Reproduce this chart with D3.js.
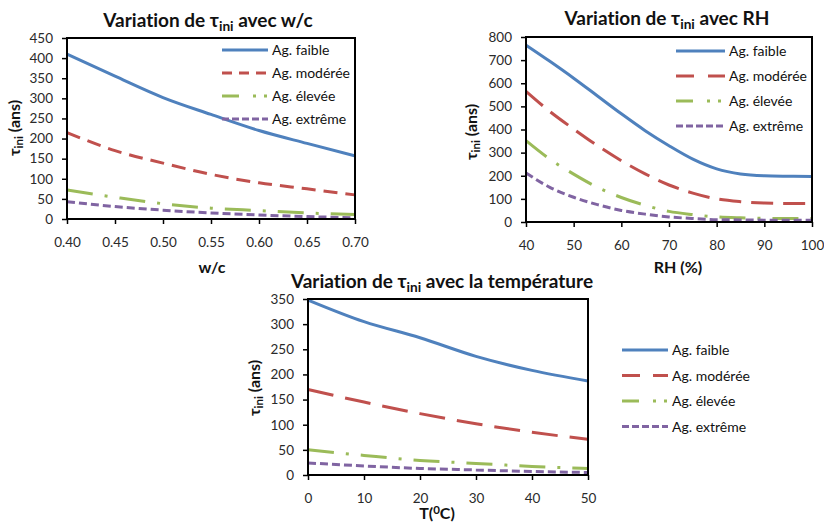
<!DOCTYPE html>
<html>
<head>
<meta charset="utf-8">
<script src="https://cdn.jsdelivr.net/npm/d3@7"></script>
<style>
  html, body { margin: 0; padding: 0; background: #fff; }
  svg { display: block; font-family: Lato, "Open Sans", sans-serif; font-variant-ligatures: none; }
</style>
</head>
<body>
<svg id="fig" width="824" height="522"></svg>
<script>
// Series names (legend)
const seriesNames = ["Ag. faible", "Ag. modérée", "Ag. élevée", "Ag. extrême"];
const seriesColors = ["#4F81BD", "#C0504D", "#9BBB59", "#8064A2"];

// τini vs w/c
const wcValues   = [0.40, 0.45, 0.50, 0.55, 0.60, 0.65, 0.70];
const wcFaible   = [410, 355, 302, 260, 220, 188, 157];
const wcModeree  = [215, 170, 139, 111, 90, 75, 60];
const wcElevee   = [72, 54, 38, 27, 21, 15, 11];
const wcExtreme  = [43, 31, 22, 15, 10, 6, 3];
const wcXTicks   = [0.40, 0.45, 0.50, 0.55, 0.60, 0.65, 0.70];
const wcYTicks   = [0, 50, 100, 150, 200, 250, 300, 350, 400, 450];

// τini vs RH
const rhValues   = [40, 45, 50, 55, 60, 65, 70, 75, 80, 85, 90, 95, 100];
const rhFaible   = [765, 695, 622, 545, 468, 395, 330, 272, 230, 208, 200, 198, 197];
const rhModeree  = [565, 478, 402, 330, 265, 208, 160, 125, 100, 88, 82, 80, 80];
const rhElevee   = [352, 272, 207, 150, 106, 72, 46, 32, 22, 18, 16, 15, 15];
const rhExtreme  = [212, 150, 107, 75, 50, 34, 22, 15, 10, 9, 8, 8, 8];
const rhXTicks   = [40, 50, 60, 70, 80, 90, 100];
const rhYTicks   = [0, 100, 200, 300, 400, 500, 600, 700, 800];

// τini vs température
const tValues    = [0, 10, 20, 30, 40, 50];
const tFaible    = [348, 305, 273, 236, 208, 187];
const tModeree   = [170, 145, 122, 102, 85, 71];
const tElevee    = [50, 39, 29, 23, 17, 13];
const tExtreme   = [24, 18, 13, 10, 7, 5];
const tXTicks    = [0, 10, 20, 30, 40, 50];
const tYTicks    = [0, 50, 100, 150, 200, 250, 300, 350];

const svg = d3.select("#fig");

// Draws text with a subscript / superscript piece: parts = [[text, kind], ...]
function richText(sel, parts, size) {
  parts.forEach(([txt, kind]) => {
    const t = sel.append("tspan").text(txt);
    if (kind === "sub") t.attr("font-size", size * 0.72).attr("baseline-shift", "-25%");
    if (kind === "sup") t.attr("font-size", size * 0.72).attr("baseline-shift", "40%");
  });
  return sel;
}

function drawChart(cfg) {
  const g = svg.append("g");
  const x = d3.scaleLinear().domain(cfg.xDomain).range([cfg.left, cfg.right]);
  const y = d3.scaleLinear().domain(cfg.yDomain).range([cfg.bottom, cfg.top]);

  // axes
  const xAxis = d3.axisBottom(x).tickValues(cfg.xTicks).tickFormat(cfg.xFormat)
    .tickSizeInner(5).tickSizeOuter(0).tickPadding(13);
  const yAxis = d3.axisLeft(y).tickValues(cfg.yTicks).tickFormat(d3.format("d"))
    .tickSizeInner(5).tickSizeOuter(0).tickPadding(9);

  const gx = g.append("g").attr("transform", `translate(0,${cfg.bottom})`).call(xAxis);
  const gy = g.append("g").attr("transform", `translate(${cfg.left},0)`).call(yAxis);
  [gx, gy].forEach(a => {
    a.select(".domain").remove();
    a.selectAll(".tick line").attr("stroke", "#000").attr("stroke-width", 1.5);
    a.selectAll(".tick text").attr("fill", "#2a2a2a").attr("font-size", 13.5).attr("font-family", "Lato, sans-serif");
  });

  // series
  const line = d3.line().x(d => x(d[0])).y(d => y(d[1])).curve(d3.curveMonotoneX);
  cfg.series.forEach((vals, i) => {
    const pts = cfg.xValues.map((xv, k) => [xv, vals[k]]);
    g.append("path").datum(pts)
      .attr("d", line)
      .attr("fill", "none")
      .attr("stroke", seriesColors[i])
      .attr("stroke-width", 3)
      .attr("stroke-dasharray", cfg.dashes[i]);
  });

  // plot frame
  g.append("rect")
    .attr("x", cfg.left).attr("y", cfg.top)
    .attr("width", cfg.right - cfg.left).attr("height", cfg.bottom - cfg.top)
    .attr("fill", "none").attr("stroke", "#000").attr("stroke-width", 2);

  // legend
  seriesNames.forEach((name, i) => {
    const ly = cfg.legend.y + i * cfg.legend.step;
    g.append("line")
      .attr("x1", cfg.legend.x).attr("x2", cfg.legend.x + cfg.legend.len)
      .attr("y1", ly).attr("y2", ly)
      .attr("stroke", seriesColors[i]).attr("stroke-width", 3)
      .attr("stroke-dasharray", cfg.legendDashes[i]);
    g.append("text")
      .attr("x", cfg.legend.x + cfg.legend.len + 4).attr("y", ly + 5)
      .attr("font-size", 14).attr("fill", "#111")
      .text(name);
  });

  // title
  richText(g.append("text")
    .attr("x", cfg.titleX).attr("y", cfg.titleY)
    .attr("text-anchor", "middle").attr("font-weight", "bold")
    .attr("font-size", 19).attr("fill", "#111"), cfg.title, 19);

  // y title
  richText(g.append("text")
    .attr("transform", `translate(${cfg.yTitleX},${cfg.yTitleY}) rotate(-90)`)
    .attr("text-anchor", "middle").attr("font-weight", "bold")
    .attr("font-size", 16).attr("fill", "#111"),
    [["τ", ""], ["ini", "sub"], [" (ans)", ""]], 16);

  // x title
  richText(g.append("text")
    .attr("x", cfg.xTitleX).attr("y", cfg.xTitleY)
    .attr("text-anchor", "middle").attr("font-weight", "bold")
    .attr("font-size", 16).attr("fill", "#111"), cfg.xTitle, 16);
}

drawChart({
  left: 67, right: 355, top: 38, bottom: 219,
  xDomain: [0.40, 0.70], yDomain: [0, 450],
  xValues: wcValues, series: [wcFaible, wcModeree, wcElevee, wcExtreme],
  xTicks: wcXTicks, yTicks: wcYTicks, xFormat: d3.format(".2f"),
  dashes: [null, "14,8", "26,12,3,12", "8,4"],
  legendDashes: [null, "10,7", "17,14,3,8,3,100", "7,3"],
  legend: { x: 222, y: 50, step: 23, len: 46 },
  title: [["Variation de τ", ""], ["ini", "sub"], [" avec w/c", ""]],
  titleX: 208, titleY: 27,
  yTitleX: 20, yTitleY: 128,
  xTitle: [["w/c", ""]], xTitleX: 212, xTitleY: 273
});

drawChart({
  left: 526, right: 812, top: 37, bottom: 222,
  xDomain: [40, 100], yDomain: [0, 800],
  xValues: rhValues, series: [rhFaible, rhModeree, rhElevee, rhExtreme],
  xTicks: rhXTicks, yTicks: rhYTicks, xFormat: d3.format("d"),
  dashes: [null, "22,10", "26,12,3,12", "8,4"],
  legendDashes: [null, "18,14", "17,14,3,8,3,100", "7,3"],
  legend: { x: 676, y: 51, step: 25, len: 49 },
  title: [["Variation de τ", ""], ["ini", "sub"], [" avec RH", ""]],
  titleX: 667, titleY: 25,
  yTitleX: 477, yTitleY: 132,
  xTitle: [["RH (%)", ""]], xTitleX: 678, xTitleY: 273
});

drawChart({
  left: 308, right: 588, top: 299, bottom: 475,
  xDomain: [0, 50], yDomain: [0, 350],
  xValues: tValues, series: [tFaible, tModeree, tElevee, tExtreme],
  xTicks: tXTicks, yTicks: tYTicks, xFormat: d3.format("d"),
  dashes: [null, "26,12", "26,12,3,12", "8,4"],
  legendDashes: [null, "18,13", "17,14,3,8,3,100", "7,3"],
  legend: { x: 622, y: 350, step: 25.5, len: 46 },
  title: [["Variation de τ", ""], ["ini", "sub"], [" avec la température", ""]],
  titleX: 442, titleY: 288,
  yTitleX: 260, yTitleY: 388,
  xTitle: [["T(", ""], ["0", "sup"], ["C)", ""]], xTitleX: 437, xTitleY: 519
});
</script>
</body>
</html>
